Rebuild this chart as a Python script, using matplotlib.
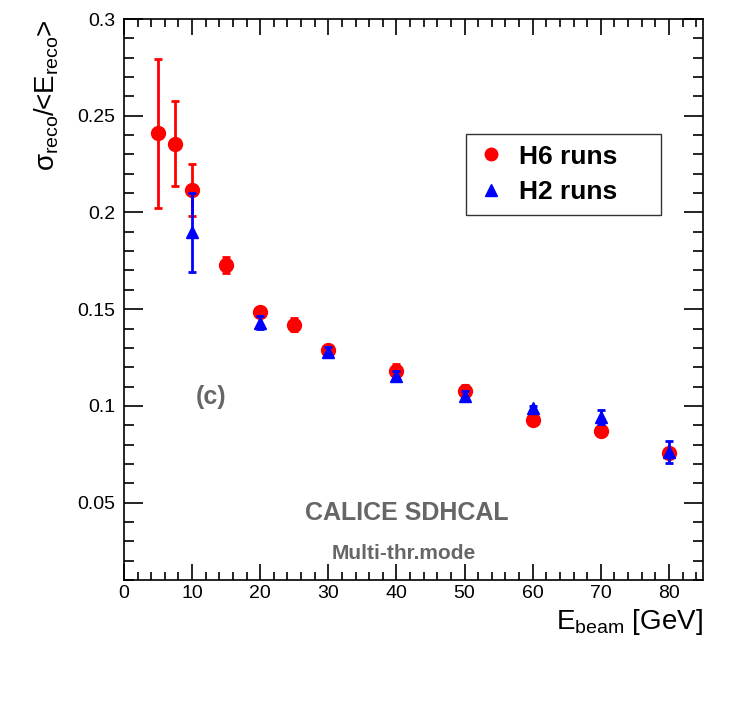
import matplotlib
matplotlib.use("Agg")
import matplotlib.pyplot as plt
from matplotlib.ticker import MultipleLocator
from matplotlib.lines import Line2D

plt.rcParams['font.family'] = ['Liberation Sans', 'DejaVu Sans']
plt.rcParams['mathtext.fontset'] = 'custom'
plt.rcParams['mathtext.rm'] = 'Liberation Sans'
plt.rcParams['mathtext.it'] = 'Liberation Sans'

# H6 runs
h6_e = [5, 7.5, 10, 15, 20, 25, 30, 40, 50, 60, 70, 80]
h6_res = [0.2410, 0.2355, 0.2115, 0.1728, 0.1487, 0.1420, 0.1287, 0.1178, 0.1075, 0.0927, 0.0870, 0.0755]
h6_err = [0.0385, 0.0220, 0.0135, 0.0040, 0.0020, 0.0035, 0.0025, 0.0040, 0.0035, 0.0015, 0.0015, 0.0025]

# H2 runs
h2_e = [10, 20, 30, 40, 50, 60, 70, 80]
h2_res = [0.1898, 0.1430, 0.1277, 0.1155, 0.1050, 0.0987, 0.0942, 0.0762]
h2_err = [0.0205, 0.0035, 0.0025, 0.0025, 0.0025, 0.0010, 0.0035, 0.0055]

W, H = 747, 714
fig = plt.figure(figsize=(W / 100, H / 100), dpi=100)
L, R, T, B = 124, 703, 19, 580
ax = fig.add_axes([L / W, 1 - B / H, (R - L) / W, (B - T) / H])

ax.errorbar(h6_e, h6_res, yerr=h6_err, fmt='o', color='#ff0000', ecolor='#ff0000',
            markersize=10, elinewidth=2, capsize=3, capthick=2, zorder=3)
ax.errorbar(h2_e, h2_res, yerr=h2_err, fmt='^', color='#0000ff', ecolor='#0000ff',
            markersize=9, elinewidth=2, capsize=3, capthick=2, zorder=4)

ax.set_xlim(0, 85)
ax.set_ylim(0.01, 0.3)
ax.xaxis.set_major_locator(MultipleLocator(10))
ax.xaxis.set_minor_locator(MultipleLocator(2))
ax.yaxis.set_minor_locator(MultipleLocator(0.01))
ax.set_yticks([0.05, 0.1, 0.15, 0.2, 0.25, 0.3])
ax.set_yticklabels(['0.05', '0.1', '0.15', '0.2', '0.25', '0.3'])
ax.tick_params(which='both', direction='in', top=True, right=True, width=1.2, labelsize=14)
ax.tick_params(axis='x', which='major', length=11.5)
ax.tick_params(axis='x', which='minor', length=6)
ax.tick_params(axis='y', which='major', length=14, pad=6)
ax.tick_params(axis='y', which='minor', length=7)
for s in ax.spines.values():
    s.set_linewidth(1.2)

ax.set_xlabel(r'E$_{\mathrm{beam}}$ [GeV]', fontsize=20, loc='right', labelpad=4)
ax.set_ylabel(r'$\sigma_{\mathrm{reco}}$/<E$_{\mathrm{reco}}$>', fontsize=20, loc='top', labelpad=12)

handles = [Line2D([], [], ls='none', marker='o', color='#ff0000', markersize=9),
           Line2D([], [], ls='none', marker='^', color='#0000ff', markersize=8)]
bx0 = (466 - L) / (R - L)
by0 = 1 - (210 - T) / (B - T)
bw = (661 - 466) / (R - L)
bh = (210 - 134) / (B - T)
leg = ax.legend(handles, ['H6 runs', 'H2 runs'], loc='upper left',
                bbox_to_anchor=(bx0, by0, bw, bh), mode='expand', borderaxespad=0,
                prop={'weight': 'bold', 'size': 19}, frameon=True, fancybox=False,
                edgecolor='black', borderpad=0.4, handletextpad=0.5, labelspacing=0.45,
                handlelength=1.1)
leg.get_frame().set_linewidth(1.0)

grey = '#666666'
ax.text(12.8, 0.1045, '(c)', color=grey, fontsize=18, fontweight='bold', ha='center', va='center')
ax.text(41.5, 0.0448, 'CALICE SDHCAL', color=grey, fontsize=18, fontweight='bold', ha='center', va='center')
ax.text(41.0, 0.0238, 'Multi-thr.mode', color=grey, fontsize=15, fontweight='bold', ha='center', va='center')

fig.savefig('out.png', dpi=100)
